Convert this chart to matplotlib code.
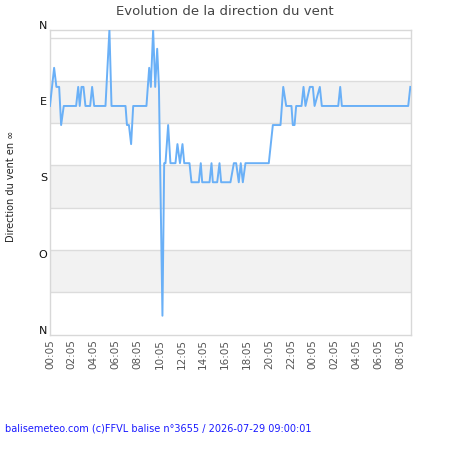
import matplotlib
matplotlib.use("Agg")
import matplotlib.pyplot as plt
from matplotlib.transforms import ScaledTranslation

# hours since 00:05 (2026-07-28) and wind direction in degrees
hours = [0.0, 0.38, 0.59, 0.84, 1.02, 1.26, 2.39, 2.58, 2.72, 2.88, 3.06, 3.24,
         3.67, 3.85, 4.04, 5.07, 5.43, 5.62, 6.90, 7.03, 7.21, 7.41, 7.60,
         8.81, 9.06, 9.21, 9.42, 9.61, 9.79, 9.95, 10.27, 10.43, 10.55, 10.79,
         11.00, 11.46, 11.64, 11.87, 12.10, 12.26, 12.74, 12.92, 13.59, 13.77,
         13.90, 14.57, 14.75, 14.87, 15.27, 15.48, 15.63, 16.48, 16.79, 17.00,
         17.24, 17.42, 17.61, 17.85, 19.98, 20.35, 21.05, 21.30, 21.57, 22.05,
         22.17, 22.33, 22.48, 22.97, 23.15, 23.33, 23.73, 24.00, 24.16, 24.64,
         24.82, 26.32, 26.50, 26.65, 32.71, 32.90]
direction = [90, 45, 67.5, 67.5, 112.5, 90, 90, 67.5, 90, 67.5, 67.5, 90,
             90, 67.5, 90, 90, 0, 90, 90, 112.5, 112.5, 135, 90,
             90, 45, 67.5, 0, 67.5, 22.5, 67.5, 337.5, 157.5, 157.5, 112.5,
             157.5, 157.5, 135, 157.5, 135, 157.5, 157.5, 180, 180, 157.5,
             180, 180, 157.5, 180, 180, 157.5, 180, 180, 157.5, 157.5,
             180, 157.5, 180, 157.5, 157.5, 112.5, 112.5, 67.5, 90, 90,
             112.5, 112.5, 90, 90, 67.5, 90, 67.5, 67.5, 90, 67.5,
             90, 90, 67.5, 90, 90, 67.5]

tick_hours = list(range(0, 33, 2))
tick_labels = ["%02d:05" % (h % 24) for h in tick_hours]
compass = [0, 90, 180, 270, 360]
compass_labels = ["N", "E", "S", "O", "N"]
grid_levels = [10, 60, 110, 160, 210, 260, 310]

fig = plt.figure(figsize=(4.5, 4.5), dpi=100)
ax = fig.add_axes([0.111, 0.256, 0.802, 0.678])

# alternating bands
for lo in (60, 160, 260):
    ax.axhspan(lo, lo + 50, color="#f2f2f2", zorder=0, lw=0)
for g in grid_levels:
    ax.axhline(g, color="#dcdcdc", lw=1, zorder=1)

ax.plot(hours, direction, color="#6ab0f7", lw=1.4, zorder=3)

ax.set_xlim(0, 32.95)
ax.set_ylim(360, 0)
ax.set_xticks(tick_hours)
ax.set_xticklabels(tick_labels, rotation=90, fontsize=7.5, color="#555555")
ax.set_yticks(compass)
ax.set_yticklabels(compass_labels, fontsize=8, color="#111111")
ax.tick_params(length=0, pad=3)
ax.tick_params(axis="y", pad=2)
for lbl in ax.get_yticklabels():
    lbl.set_transform(lbl.get_transform() + ScaledTranslation(0, 5 / 100, fig.dpi_scale_trans))
for sp in ax.spines.values():
    sp.set_color("#d8d8d8")
    sp.set_linewidth(1)

fig.text(0.5, 0.975, "Evolution de la direction du vent", ha="center", va="center",
         fontsize=9.5, color="#444444")
fig.text(0.025, 0.585, "Direction du vent en \u221e", rotation=90, ha="center",
         va="center", fontsize=7, color="#222222")
fig.text(0.011, 0.047, "balisemeteo.com (c)FFVL balise n\u00b03655 / 2026-07-29 09:00:01",
         ha="left", va="center", fontsize=7, color="#1a1aff")

fig.savefig("out.png", dpi=100)
